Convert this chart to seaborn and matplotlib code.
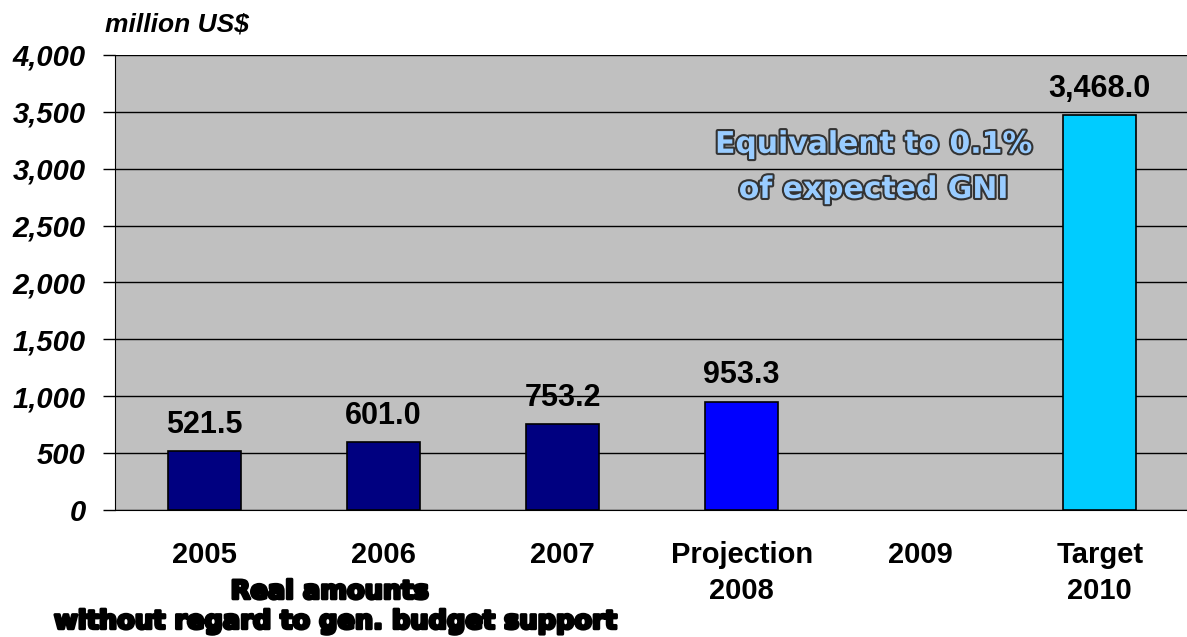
import matplotlib.pyplot as plt
import matplotlib.patheffects as pe
import pandas as pd
import seaborn as sns
from matplotlib.ticker import FuncFormatter, MultipleLocator

# === data
categories = ["2005", "2006", "2007", "Projection\n2008", "2009", "Target\n2010"]
bar_cats = ["2005", "2006", "2007", "Projection\n2008", "Target\n2010"]
amounts = [521.5, 601.0, 753.2, 953.3, 3468.0]
bar_colors = ["#000080", "#000080", "#000080", "#0000FF", "#00CCFF"]

df = pd.DataFrame({"cat": bar_cats, "amount": amounts})

sns.set_style("white")
plt.rcParams["font.family"] = ["Liberation Sans", "DejaVu Sans"]
plt.rcParams["text.color"] = "black"

fig = plt.figure(figsize=(11.87, 6.37), dpi=100)
ax = fig.add_axes([0.0969, 0.1994, 0.905, 0.7143])
ax.set_facecolor("#C0C0C0")

sns.barplot(data=df, x="cat", y="amount", hue="cat", order=categories,
            hue_order=bar_cats, palette=bar_colors, saturation=1, width=0.41,
            edgecolor="black", linewidth=1.2, legend=False, ax=ax, zorder=3)

for cont in ax.containers:
    ax.bar_label(cont, labels=[f"{v:,.1f}" for v in cont.datavalues],
                 padding=8, fontsize=22, fontweight="bold", color="black")

ax.set_ylim(0, 4000)
ax.set_xlim(-0.5, 5.5)
ax.yaxis.set_major_locator(MultipleLocator(500))
ax.yaxis.set_major_formatter(FuncFormatter(lambda v, p: f"{v:,.0f}"))
ax.grid(axis="y", color="black", linewidth=1.0, zorder=1)
ax.set_axisbelow(True)

for s in ["top", "right"]:
    ax.spines[s].set_visible(False)
ax.spines["left"].set_color("black")
ax.spines["bottom"].set_color("black")

ax.tick_params(axis="y", left=True, length=9, width=1, color="black", pad=12,
               labelcolor="black")
for t in ax.get_yticklabels():
    t.set_fontsize(21)
    t.set_fontweight("bold")
    t.set_fontstyle("italic")

ax.set_xticks(range(len(categories)))
ax.set_xticklabels(categories, fontsize=21, fontweight="bold", linespacing=1.38)
ax.set_xticks([i - 0.5 for i in range(len(categories) + 1)], minor=True)
ax.tick_params(axis="x", which="major", length=0, pad=22, labelcolor="black")
ax.tick_params(axis="x", which="minor", length=8, width=1, color="#404040")
for t in ax.get_xticklabels():
    t.set_va("top")

ax.set_xlabel("")
ax.set_ylabel("")

fig.text(0.0885, 0.943, "million US$", fontsize=19, fontweight="bold",
         fontstyle="italic", ha="left", va="bottom")

note = ax.text(0.736, 0.738, "Equivalent to 0.1%\nof expected GNI",
               transform=fig.transFigure, ha="center", va="center",
               fontsize=21.5, fontweight="bold", color="#99CCFF",
               family="DejaVu Sans", linespacing=1.7, zorder=5)
note.set_path_effects([pe.Stroke(linewidth=3, foreground="#333333"), pe.Normal()])

for x, y, txt in [(0.278, 0.071, "Real amounts"),
                  (0.283, 0.024, "without regard to gen. budget support")]:
    t = fig.text(x, y, txt, fontsize=18.5, fontweight="bold",
                 family="DejaVu Sans", ha="center", va="center")
    t.set_path_effects([pe.Stroke(linewidth=2.2, foreground="black"), pe.Normal()])

fig.savefig("out.png", dpi=100)
